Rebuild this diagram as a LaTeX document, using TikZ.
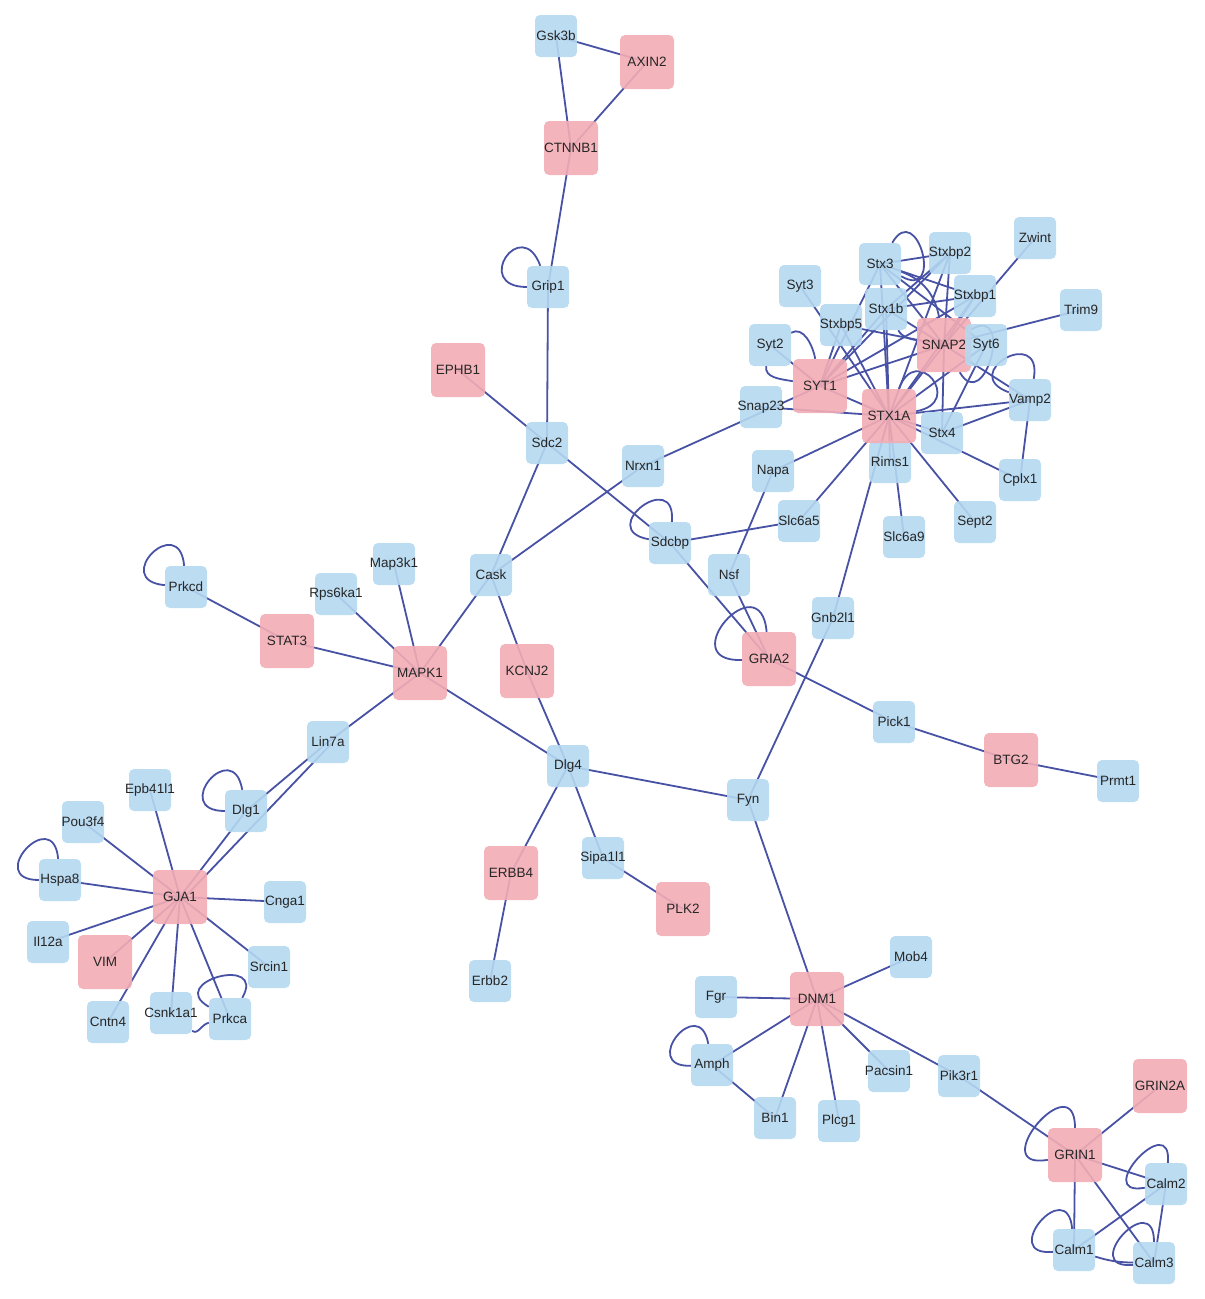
\documentclass[tikz,border=0pt]{standalone}
\usepackage{fontspec}
\setmainfont{Liberation Sans}
\usetikzlibrary{backgrounds}
\definecolor{nblue}{RGB}{180,216,240}
\definecolor{npink}{RGB}{243,172,180}
\definecolor{eblue}{RGB}{72,82,165}
\newcommand\glab[1]{\makebox[0pt][c]{#1}}
\tikzset{
 gene/.style={rounded corners=5pt, inner sep=0pt, font=\fontsize{13.5}{15}\selectfont, text=black!85, fill opacity=0.9, text opacity=1},
 bnode/.style={gene, fill=nblue, minimum width=42pt, minimum height=42pt},
 pnode/.style={gene, fill=npink, minimum width=54pt, minimum height=54pt},
 conn/.style={draw=eblue, line width=1.8pt},
}
\begin{document}
\begin{tikzpicture}[x=1pt,y=-1pt]
\useasboundingbox (0,0) rectangle (1205,1299);
% blue nodes
\foreach \n/\xx/\yy/\t in {Gsk3b/556/36/Gsk3b, Grip1/548/287/Grip1, Sdc2/547/443/Sdc2, Nrxn1/643/466/Nrxn1,
 Cask/491/575/Cask, Map3k1/394/564/Map3k1, Rps6ka1/336/594/Rps6ka1, Prkcd/186/587/Prkcd, Lin7a/328/742/Lin7a,
 Dlg4/568/766/Dlg4, Fyn/748/800/Fyn, Dlg1/246/811/Dlg1, Epb41l1/150/790/Epb41l1, Pou3f4/83/822/Pou3f4,
 Hspa8/60/880/Hspa8, Cnga1/285/902/Cnga1, Il12a/48/942/Il12a, Srcin1/269/967/Srcin1, Cntn4/108/1022/Cntn4,
 Csnk1a1/171/1013/Csnk1a1, Prkca/230/1019/Prkca, Sipa1l1/603/858/Sipa1l1, Erbb2/490/981/Erbb2,
 Sdcbp/670/543/Sdcbp, Slc6a5/799/521/Slc6a5, Napa/773/471/Napa, Nsf/729/575/Nsf, Gnb2l1/833/618/Gnb2l1,
 Pick1/894/722/Pick1, Prmt1/1118/781/Prmt1, Snap23/761/407/Snap23, Syt2/770/345/Syt2, Syt3/800/286/Syt3,
 Stxbp5/841/325/Stxbp5, Stx3/880/264/Stx3, Stx1b/886/309/Stx1b, Stxbp2/950/253/Stxbp2, Stxbp1/975/296/Stxbp1,
 Zwint/1035/238/Zwint, Trim9/1081/310/Trim9, Vamp2/1030/400/Vamp2, Stx4/942/433/Stx4, Rims1/890/462/Rims1,
 Cplx1/1020/480/Cplx1, Sept2/975/522/Sept2, Slc6a9/904/537/Slc6a9, Mob4/911/957/Mob4, Fgr/716/997/Fgr,
 Amph/712/1065/Amph, Pacsin1/889/1071/Pacsin1, Pik3r1/959/1076/Pik3r1, Bin1/775/1118/Bin1, Plcg1/839/1121/Plcg1,
 Calm2/1166/1184/Calm2, Calm1/1074/1250/Calm1, Calm3/1154/1263/Calm3}
 { \node[bnode] (\n) at (\xx,\yy) {\glab{\t}}; }
% pink nodes
\foreach \n/\xx/\yy in {AXIN2/647/62, CTNNB1/571/148, EPHB1/458/370, STAT3/287/641, MAPK1/420/673, KCNJ2/527/671,
 GJA1/180/897, VIM/105/962, ERBB4/511/873, PLK2/683/909, GRIA2/769/659, BTG2/1011/760, SYT1/820/386,
 STX1A/889/416, SNAP2/944/345, DNM1/817/999, GRIN2A/1160/1086, GRIN1/1075/1155}
 { \node[pnode] (\n) at (\xx,\yy) {\glab{\n}}; }
\node[bnode] (Syt6b) at (986,345) {\glab{Syt6}};
\begin{pgfonlayer}{background}
\foreach \a/\b in {Gsk3b/AXIN2, Gsk3b/CTNNB1, AXIN2/CTNNB1, CTNNB1/Grip1, Grip1/Sdc2, EPHB1/Sdc2, Sdc2/Cask,
 Sdc2/Sdcbp, Nrxn1/Cask, Nrxn1/SYT1, Cask/MAPK1, Cask/KCNJ2, MAPK1/Map3k1, MAPK1/Rps6ka1, MAPK1/STAT3,
 MAPK1/Lin7a, MAPK1/Dlg4, STAT3/Prkcd, KCNJ2/Dlg4, Lin7a/Dlg1, Dlg1/GJA1, Dlg4/Fyn, Dlg4/ERBB4, Dlg4/Sipa1l1,
 Sipa1l1/PLK2, ERBB4/Erbb2, Fyn/Gnb2l1, Gnb2l1/STX1A, Fyn/DNM1, Sdcbp/GRIA2, Nsf/GRIA2, GRIA2/Pick1,
 Pick1/BTG2, BTG2/Prmt1, Napa/Nsf, Napa/STX1A, Slc6a5/Sdcbp, Slc6a5/STX1A,
 GJA1/Epb41l1, GJA1/Pou3f4, GJA1/Hspa8, GJA1/Cnga1, GJA1/Il12a, GJA1/VIM, GJA1/Srcin1, GJA1/Cntn4,
 GJA1/Csnk1a1, GJA1/Prkca,
 DNM1/Fgr, DNM1/Mob4, DNM1/Amph, DNM1/Bin1, DNM1/Plcg1, DNM1/Pacsin1, DNM1/Pik3r1, Amph/Bin1,
 Pik3r1/GRIN1, GRIN1/GRIN2A, GRIN1/Calm2, GRIN1/Calm1, GRIN1/Calm3, Calm2/Calm1, Calm2/Calm3,
 SYT1/STX1A, SYT1/SNAP2, SNAP2/STX1A, Syt2/SYT1, Snap23/STX1A, Stxbp5/STX1A, Stxbp5/SYT1, Stxbp5/SNAP2,
 Syt3/STX1A, Stx3/Stxbp2, Stx3/Stxbp1, Stx3/SNAP2, Stx3/STX1A, Stx3/SYT1, Stx3/Syt6b, Stx1b/Stxbp1,
 Stx1b/SNAP2, Stx1b/STX1A, Stx1b/Stxbp2, Stx1b/SYT1, Stxbp2/SNAP2, Stxbp2/STX1A, Stxbp2/SYT1,
 Stxbp1/SNAP2, Stxbp1/STX1A, Stxbp1/SYT1, Zwint/SNAP2, Trim9/SNAP2, SNAP2/Vamp2, Syt6b/Stx4, SNAP2/Stx4,
 STX1A/Stx4, STX1A/Vamp2, Stx4/Vamp2, STX1A/Rims1, STX1A/Slc6a9, STX1A/Sept2, STX1A/Cplx1, Vamp2/Cplx1,
 Syt6b/STX1A}
 { \draw[conn] (\a.center) -- (\b.center); }
% parallel Lin7a--GJA1
\draw[conn] ([xshift=5pt]Lin7a.center) -- ([xshift=5pt]GJA1.center);
% curved edges
\draw[conn] (Calm1) to[bend right=8] (Calm3);
\draw[conn] (Csnk1a1) to[out=-40,in=190] (Prkca);
\draw[conn] (Stx3) to[out=-20,in=100] (SNAP2);
\draw[conn] (Stx1b) to[out=-60,in=170] (SNAP2);
\draw[conn] (Syt2) to[out=30,in=100] (SYT1);
\draw[conn] (Syt2) to[out=-100,in=170] (SYT1);
% self loops
\draw[conn] (Grip1) to[out=180,in=110,min distance=55pt] (Grip1);
\draw[conn] (Prkcd) to[out=175,in=95,min distance=55pt] (Prkcd);
\draw[conn] (Sdcbp) to[out=170,in=85,min distance=55pt] (Sdcbp);
\draw[conn] (GRIA2) to[out=182,in=95,min distance=70pt] (GRIA2);
\draw[conn] (Dlg1) to[out=180,in=100,min distance=55pt] (Dlg1);
\draw[conn] (Hspa8) to[out=180,in=95,min distance=55pt] (Hspa8);
\draw[conn] (Prkca) to[out=150,in=60,min distance=50pt] (Prkca);
\draw[conn] (Amph) to[out=182,in=100,min distance=52pt] (Amph);
\draw[conn] (GRIN1) to[out=190,in=90,min distance=65pt] (GRIN1);
\draw[conn] (Calm2) to[out=190,in=85,min distance=55pt] (Calm2);
\draw[conn] (Calm1) to[out=185,in=95,min distance=55pt] (Calm1);
\draw[conn] (Calm3) to[out=185,in=90,min distance=55pt] (Calm3);
\draw[conn] (Vamp2) to[out=160,in=80,min distance=55pt] (Vamp2);
\draw[conn] (SNAP2) to[out=30,in=-60,min distance=50pt] (SNAP2);
\draw[conn] (STX1A) to[out=70,in=10,min distance=50pt] (STX1A);
\draw[conn] (Stx3) to[out=-30,in=60,min distance=50pt] (Stx3);
\end{pgfonlayer}
\end{tikzpicture}
\end{document}
